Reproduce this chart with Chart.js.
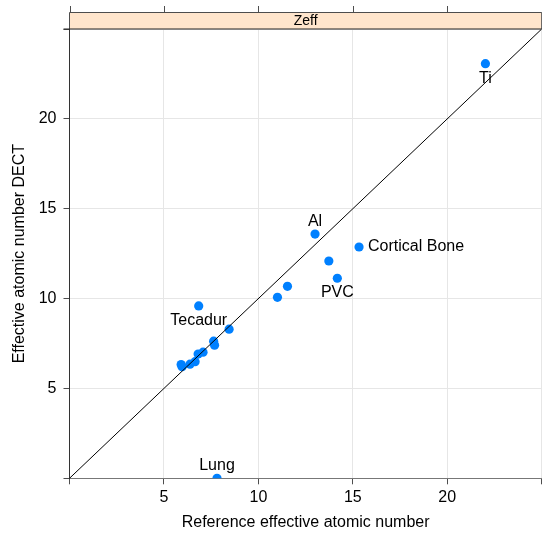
<!DOCTYPE html>
<html>
<head>
<meta charset="utf-8">
<script src="https://cdn.jsdelivr.net/npm/chart.js@4.4.1/dist/chart.umd.min.js"></script>
<style>
  html, body { margin: 0; padding: 0; background: #fff; overflow: hidden; }
  canvas { display: block; }
</style>
</head>
<body>
<canvas id="zeff" width="542" height="536"></canvas>
<script>
// Reference vs. DECT effective atomic numbers per material
const refZ  = [22.02, 13.0, 15.33, 13.73, 14.18, 11.54, 11.01, 6.84, 8.45,
               5.91, 5.96, 6.38, 6.65, 6.81, 7.07, 7.63, 7.68, 7.81];
const dectZ = [23.07, 13.59, 12.87, 12.09, 11.13, 10.68, 10.07, 9.59, 8.30,
               6.33, 6.21, 6.35, 6.49, 6.91, 7.02, 7.63, 7.41, 0];
const names = ['Ti', 'Al', 'Cortical Bone', '', 'PVC', '', '', 'Tecadur', '',
               '', '', '', '', '', '', '', '', 'Lung'];
const namePos = ['below', 'above', 'right', '', 'below', '', '', 'below', '',
                 '', '', '', '', '', '', '', '', 'above'];
const axisTicks = [0, 5, 10, 15, 20, 25];
const stripLabel = 'Zeff';

const FONT = 'Liberation Sans, Arial, Helvetica, sans-serif';
const AXIS = '#4d4d4d';

const points = refZ.map((x, i) => ({ x: x, y: dectZ[i] }));

// strip header above the panel, plus the tick marks on top of it
const stripPlugin = {
  id: 'strip',
  afterDraw(chart) {
    const { ctx, chartArea } = chart;
    const xs = chart.scales.x;
    const top = 12.5, bot = chartArea.top;
    ctx.save();
    ctx.fillStyle = '#ffe5cc';
    ctx.fillRect(chartArea.left, top, chartArea.right - chartArea.left, bot - top);
    ctx.strokeStyle = AXIS;
    ctx.lineWidth = 1;
    ctx.beginPath();
    ctx.moveTo(chartArea.left, bot);
    ctx.lineTo(chartArea.left, top);
    ctx.lineTo(chartArea.right, top);
    ctx.lineTo(chartArea.right, bot);
    ctx.stroke();
    ctx.strokeStyle = '#222';
    ctx.beginPath();
    ctx.moveTo(chartArea.left - 6, bot);
    ctx.lineTo(chartArea.right, bot);
    ctx.stroke();
    ctx.strokeStyle = AXIS;
    ctx.beginPath();
    axisTicks.forEach(v => {
      const px = Math.round(xs.getPixelForValue(v)) + 0.5;
      ctx.moveTo(px, top);
      ctx.lineTo(px, top - 6.5);
    });
    ctx.stroke();
    ctx.fillStyle = '#000';
    ctx.font = '14px ' + FONT;
    ctx.textAlign = 'center';
    ctx.textBaseline = 'middle';
    ctx.fillText(stripLabel, (chartArea.left + chartArea.right) / 2, (top + bot) / 2 + 0.5);
    ctx.restore();
  }
};

// material names next to their points
const namePlugin = {
  id: 'names',
  afterDatasetsDraw(chart) {
    const { ctx } = chart;
    const xs = chart.scales.x, ys = chart.scales.y;
    ctx.save();
    ctx.fillStyle = '#000';
    ctx.font = '16px ' + FONT;
    ctx.textBaseline = 'middle';
    names.forEach((n, i) => {
      if (!n) return;
      const px = xs.getPixelForValue(refZ[i]);
      const py = ys.getPixelForValue(dectZ[i]);
      if (namePos[i] === 'right') {
        ctx.textAlign = 'left';
        ctx.fillText(n, px + 9, py);
      } else if (namePos[i] === 'above') {
        ctx.textAlign = 'center';
        ctx.fillText(n, px, py - 12.5);
      } else {
        ctx.textAlign = 'center';
        ctx.fillText(n, px, py + 14.5);
      }
    });
    ctx.restore();
  }
};

const tickLabel = v => (v === 0 || v === 25) ? '' : String(v);

new Chart(document.getElementById('zeff'), {
  type: 'scatter',
  data: {
    datasets: [{
      type: 'line',
      data: [{ x: 0, y: 0 }, { x: 25, y: 25 }],
      borderColor: '#000',
      borderWidth: 1,
      pointRadius: 0,
      order: 0
    }, {
      data: points,
      backgroundColor: '#0080ff',
      borderWidth: 0,
      pointRadius: 4.6,
      clip: 0,
      order: 1
    }]
  },
  options: {
    responsive: false,
    animation: false,
    layout: { autoPadding: false, padding: { top: 29, right: 0.3, left: 0, bottom: 0 } },
    plugins: { legend: { display: false }, tooltip: { enabled: false } },
    scales: {
      x: {
        type: 'linear', min: 0, max: 25,
        afterBuildTicks: s => { s.ticks = axisTicks.map(v => ({ value: v })); },
        afterFit: s => { s.height = 57.7; s.paddingLeft = 0; s.paddingRight = 0; },
        ticks: { callback: tickLabel, color: '#000', font: { family: FONT, size: 16 }, padding: 4, maxRotation: 0 },
        grid: { color: '#e6e6e6', tickColor: AXIS, tickLength: 6 },
        border: { color: '#777' },
        title: { display: true, text: 'Reference effective atomic number', color: '#000',
                 font: { family: FONT, size: 16 }, padding: { top: 0, bottom: 4 } }
      },
      y: {
        type: 'linear', min: 0, max: 25,
        afterBuildTicks: s => { s.ticks = axisTicks.map(v => ({ value: v })); },
        afterFit: s => { s.width = 69.5; s.paddingTop = 0; s.paddingBottom = 0; },
        ticks: { callback: tickLabel, color: '#000', font: { family: FONT, size: 16 }, padding: 7 },
        grid: { color: '#e6e6e6', tickColor: AXIS, tickLength: 6 },
        border: { color: '#333' },
        title: { display: true, text: 'Effective atomic number DECT', color: '#000',
                 font: { family: FONT, size: 16 }, padding: { top: 10, bottom: 0 } }
      }
    }
  },
  plugins: [stripPlugin, namePlugin]
});
</script>
</body>
</html>
